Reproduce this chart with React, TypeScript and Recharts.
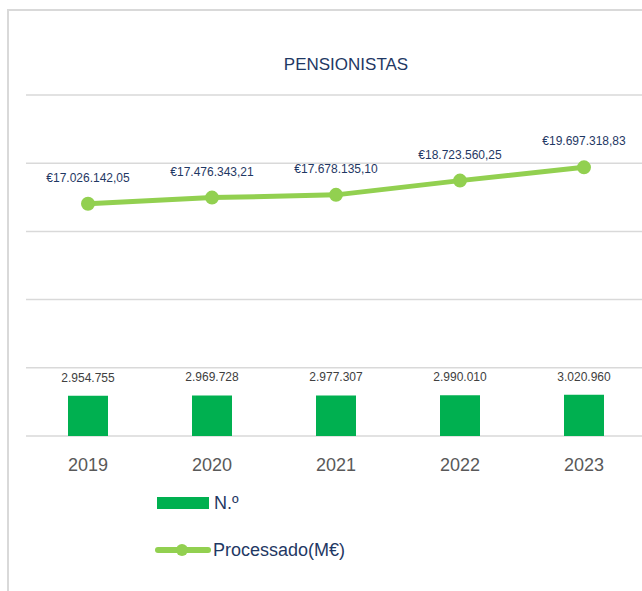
import React from 'react';
import { ComposedChart, Bar, Line, XAxis, YAxis, CartesianGrid, LabelList, Legend } from 'recharts';

const years = ['2019', '2020', '2021', '2022', '2023'];
const counts = [2954755, 2969728, 2977307, 2990010, 3020960];
const processed = [17026142.05, 17476343.21, 17678135.1, 18723560.25, 19697318.83];
const yTicks = [0, 5000000, 10000000, 15000000, 20000000, 25000000];

const data = years.map((year, i) => ({ year, count: counts[i], processed: processed[i] }));

const groupThousands = (s: string) => s.replace(/\B(?=(\d{3})+(?!\d))/g, '.');
const fmtCount = (v: any) => groupThousands(String(Math.round(Number(v))));
const fmtEuro = (v: any) => {
  const n = Number(v);
  const intPart = Math.floor(n);
  const cents = Math.round((n - intPart) * 100);
  return '€' + groupThousands(String(intPart)) + ',' + String(cents).padStart(2, '0');
};

const FONT = '"Liberation Sans", Arial, sans-serif';

const renderLegend = () => (
  <svg width={260} height={80} style={{ display: 'block', overflow: 'visible' }}>
    <rect x={7} y={7} width={52} height={12} fill="#00b050" />
    <text x={64} y={13} dominantBaseline="central" fontSize={18} fill="#1f3864" fontFamily={FONT}>
      N.º
    </text>
    <line x1={8} x2={58} y1={60} y2={60} stroke="#92d050" strokeWidth={6} strokeLinecap="round" />
    <circle cx={32} cy={60} r={6} fill="#92d050" />
    <text x={63} y={60} dominantBaseline="central" fontSize={18} fill="#1f3864" fontFamily={FONT}>
      Processado(M€)
    </text>
  </svg>
);

export default function App() {
  return (
    <div
      style={{
        position: 'absolute',
        left: 0,
        top: 0,
        width: 642,
        height: 591,
        overflow: 'hidden',
        background: '#ffffff',
        fontFamily: FONT,
      }}
    >
      <div
        style={{
          position: 'absolute',
          left: 7,
          top: 9,
          width: 700,
          height: 700,
          borderLeft: '2px solid #d9d9d9',
          borderTop: '2px solid #d9d9d9',
          boxSizing: 'border-box',
        }}
      />
      <div
        style={{
          position: 'absolute',
          left: 246,
          top: 54,
          width: 200,
          textAlign: 'center',
          fontSize: 17,
          lineHeight: '22px',
          color: '#1f3864',
        }}
      >
        PENSIONISTAS
      </div>
      <div style={{ position: 'absolute', left: 0, top: 0 }}>
        <ComposedChart
          width={660}
          height={591}
          data={data}
          margin={{ top: 95, right: 14, left: 26, bottom: 125 }}
        >
          <CartesianGrid vertical={false} stroke="#d9d9d9" strokeWidth={1.5} />
          <XAxis
            dataKey="year"
            height={30}
            axisLine={false}
            tickLine={false}
            tickSize={0}
            tickMargin={22}
            tick={{ fontSize: 18, fill: '#595959' }}
          />
          <YAxis hide type="number" domain={[0, 25000000]} ticks={yTicks} />
          <Legend
            layout="vertical"
            align="center"
            verticalAlign="middle"
            content={renderLegend}
            wrapperStyle={{ position: 'absolute', left: 150, top: 490, width: 260, height: 80 }}
          />
          <Bar dataKey="count" name="N.º" fill="#00b050" barSize={40} isAnimationActive={false}>
            <LabelList dataKey="count" position="top" offset={14} fontSize={12} fill="#404040" formatter={fmtCount} />
          </Bar>
          <Line
            dataKey="processed"
            name="Processado(M€)"
            type="linear"
            stroke="#92d050"
            strokeWidth={5}
            dot={{ r: 6, fill: '#92d050', stroke: '#92d050', strokeWidth: 2 }}
            isAnimationActive={false}
          >
            <LabelList dataKey="processed" position="top" offset={22} fontSize={12} fill="#1f3864" formatter={fmtEuro} />
          </Line>
        </ComposedChart>
      </div>
    </div>
  );
}
